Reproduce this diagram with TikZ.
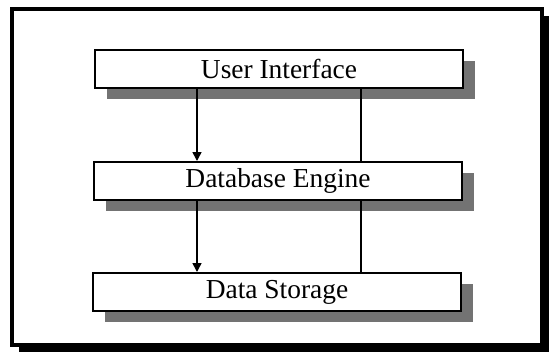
\documentclass[tikz,border=0pt]{standalone}
\usepackage{fontspec}
\setmainfont{Liberation Serif}
\usetikzlibrary{arrows.meta,shadows}
\begin{document}
\begin{tikzpicture}[x=0.025cm, y=-0.025cm, line width=1.1pt, >={Triangle[length=0.22cm,width=0.22cm]},
layer node/.style={rectangle,draw=black,fill=white,line width=1.4pt,minimum width=9.2cm,minimum height=0.95cm,inner sep=0pt,font=\fontsize{19.5}{22}\selectfont,drop shadow={shadow xshift=0.3cm,shadow yshift=-0.27cm,fill=black!55,opacity=1}}]
\useasboundingbox (0,0) rectangle (553,356);
\draw[line width=2.2pt, fill=white, drop shadow={shadow xshift=0.17cm, shadow yshift=-0.17cm, fill=black, opacity=1}] (12,9) rectangle (542,345);
\begin{scope}
\node[layer node] (ui) at (279,69) {User Interface};
\node[layer node] (db) at (278,181) {Database Engine};
\node[layer node] (ds) at (277,292) {Data Storage};
\end{scope}
\coordinate (down) at (197,0);
\coordinate (up) at (361,0);
\draw[->] (ui.south -| down) -- (db.north -| down);
\draw (db.north -| up) -- (ui.south -| up);
\draw[->] (db.south -| down) -- (ds.north -| down);
\draw (ds.north -| up) -- (db.south -| up);
\end{tikzpicture}
\end{document}
